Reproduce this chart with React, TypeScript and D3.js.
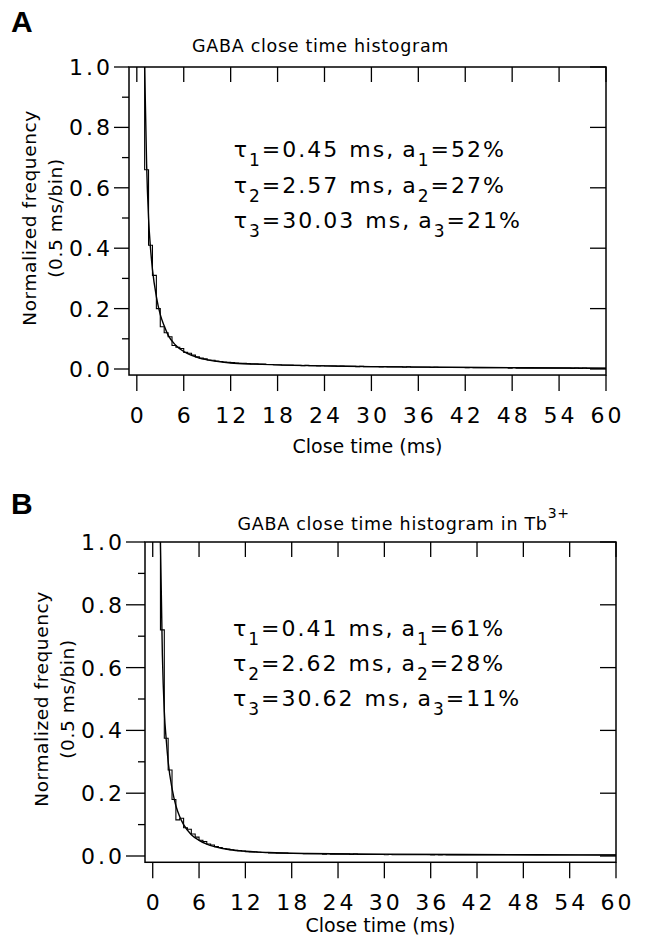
import React from 'react';
import * as d3 from 'd3';

const W = 648;
const H = 939;

const xTicks = [0, 6, 12, 18, 24, 30, 36, 42, 48, 54, 60];
const yMajor = [0, 0.2, 0.4, 0.6, 0.8, 1.0];
const yMinor = [0.1, 0.3, 0.5, 0.7, 0.9];
const BIN = 0.5;

// Panel A histogram (0.5 ms bins, first bin starts at 0.5 ms)
const histStartA = 0.5;
const histA = [
  1.5, 0.66, 0.41, 0.31, 0.2, 0.14, 0.12, 0.107, 0.078, 0.072,
  0.068, 0.055, 0.052, 0.046, 0.04, 0.036, 0.034, 0.03, 0.029, 0.026,
  0.025, 0.023, 0.022, 0.021, 0.02, 0.019, 0.019, 0.018, 0.017, 0.017,
  0.016, 0.016, 0.015, 0.015, 0.014, 0.014, 0.013, 0.013, 0.013, 0.012,
  0.012, 0.011, 0.012, 0.011, 0.011, 0.01, 0.011, 0.01, 0.01, 0.01,
  0.009, 0.01, 0.009, 0.009, 0.009, 0.008, 0.009, 0.008, 0.008, 0.008,
  0.008, 0.007, 0.008, 0.007, 0.007, 0.007, 0.007, 0.006, 0.007, 0.006,
  0.006, 0.006, 0.006, 0.006, 0.005, 0.006, 0.005, 0.005, 0.005, 0.005,
  0.005, 0.005, 0.005, 0.004, 0.005, 0.004, 0.004, 0.004, 0.004, 0.004,
  0.004, 0.004, 0.004, 0.004, 0.003, 0.004, 0.003, 0.003, 0.003, 0.003,
  0.003, 0.003, 0.003, 0.003, 0.003, 0.003, 0.003, 0.003, 0.003, 0.003,
  0.002, 0.003, 0.002, 0.003, 0.002, 0.002, 0.002, 0.002, 0.002
];
// Panel A fitted curve, read at these times (ms)
const fitTA = [0.9, 1.0, 1.25, 1.5, 1.75, 2.0, 2.5, 3.0, 3.5, 4.0, 5.0, 6.0, 7.0, 8.0, 10, 12, 15, 20, 25, 30, 40, 50, 60];
const fitYA = [1.2, 1.0, 0.68, 0.5, 0.4, 0.33, 0.24, 0.18, 0.143, 0.112, 0.078, 0.058, 0.045, 0.036, 0.026, 0.02, 0.016, 0.012, 0.01, 0.008, 0.006, 0.004, 0.003];

// Panel B histogram
const histStartB = 0.5;
const histB = [
  1.5, 0.72, 0.375, 0.274, 0.18, 0.115, 0.12, 0.09, 0.085, 0.07,
  0.06, 0.05, 0.046, 0.038, 0.035, 0.03, 0.027, 0.024, 0.022, 0.02,
  0.018, 0.017, 0.016, 0.014, 0.013, 0.013, 0.012, 0.011, 0.011, 0.01,
  0.01, 0.009, 0.009, 0.009, 0.008, 0.008, 0.008, 0.008, 0.007, 0.007,
  0.007, 0.007, 0.007, 0.006, 0.007, 0.006, 0.006, 0.006, 0.006, 0.006,
  0.005, 0.006, 0.005, 0.005, 0.005, 0.005, 0.005, 0.005, 0.005, 0.004,
  0.005, 0.004, 0.004, 0.004, 0.004, 0.004, 0.004, 0.004, 0.004, 0.004,
  0.004, 0.003, 0.004, 0.003, 0.004, 0.003, 0.003, 0.003, 0.003, 0.003,
  0.003, 0.003, 0.003, 0.003, 0.003, 0.003, 0.003, 0.003, 0.003, 0.003,
  0.003, 0.003, 0.003, 0.003, 0.003, 0.003, 0.003, 0.003, 0.003, 0.003,
  0.003, 0.003, 0.003, 0.003, 0.003, 0.003, 0.003, 0.003, 0.003, 0.003,
  0.003, 0.003, 0.003, 0.003, 0.003, 0.003, 0.003, 0.003, 0.003
];
const fitTB = [0.85, 1.0, 1.25, 1.5, 1.75, 2.0, 2.5, 3.0, 3.5, 4.0, 5.0, 6.0, 7.0, 8.0, 10, 12, 15, 20, 30, 40, 50, 60];
const fitYB = [1.3, 1.0, 0.64, 0.46, 0.37, 0.3, 0.215, 0.16, 0.125, 0.1, 0.068, 0.05, 0.038, 0.03, 0.02, 0.015, 0.011, 0.008, 0.006, 0.005, 0.004, 0.003];

const paramsA = [
  { i: '1', tau: '0.45', a: '52%' },
  { i: '2', tau: '2.57', a: '27%' },
  { i: '3', tau: '30.03', a: '21%' },
];
const paramsB = [
  { i: '1', tau: '0.41', a: '61%' },
  { i: '2', tau: '2.62', a: '28%' },
  { i: '3', tau: '30.62', a: '11%' },
];

const FONT = "'DejaVu Sans', 'Liberation Sans', sans-serif";

type PanelProps = {
  id: string;
  letter: string;
  letterX: number;
  letterY: number;
  title: string;
  titleSup?: string;
  titleT: number;
  titleY: number;
  x0: number;
  x1: number;
  yTop: number;
  yZero: number;
  tickLen: number;
  ylabX: number;
  tickLabY: number;
  xlabY: number;
  hist: number[];
  histStart: number;
  fitT: number[];
  fitY: number[];
  params: { i: string; tau: string; a: string }[];
  textT: number;
  textY: number[];
};

function Panel(p: PanelProps) {
  const x = d3.scaleLinear().domain([-1, 60]).range([p.x0, p.x1]);
  const y = d3.scaleLinear().domain([0, 1]).range([p.yZero, p.yTop]);
  const yBot = y(-0.02);
  const cx = (p.x0 + p.x1) / 2;
  const cy = (p.yTop + p.yZero) / 2;

  const steps: [number, number][] = p.hist.map((v, i) => [p.histStart + i * BIN, v]);
  steps.push([p.histStart + p.hist.length * BIN, p.hist[p.hist.length - 1]]);
  const stepLine = d3
    .line<[number, number]>()
    .x((d) => x(d[0]))
    .y((d) => y(d[1]))
    .curve(d3.curveStepAfter);
  const fitPts: [number, number][] = p.fitT.map((t, i) => [t, p.fitY[i]]);
  const fitLine = d3
    .line<[number, number]>()
    .x((d) => x(d[0]))
    .y((d) => y(d[1]))
    .curve(d3.curveMonotoneX);

  const clipId = 'clip' + p.id;
  const sw = 1.3;
  const textX = x(p.textT);
  return (
    <g>
      <defs>
        <clipPath id={clipId}>
          <rect x={p.x0} y={p.yTop} width={p.x1 - p.x0} height={yBot - p.yTop} />
        </clipPath>
      </defs>
      <text x={p.letterX} y={p.letterY} fontFamily="'Liberation Sans', Arial, sans-serif" fontWeight="bold" fontSize={30}>
        {p.letter}
      </text>
      <text x={x(p.titleT)} y={p.titleY} textAnchor="middle" fontFamily={FONT} fontSize={17.5} letterSpacing={0.7}>
        {p.title}
        {p.titleSup ? (
          <tspan dy={-12} fontSize={14}>
            {p.titleSup}
          </tspan>
        ) : null}
      </text>
      {/* frame */}
      <rect x={p.x0} y={p.yTop} width={p.x1 - p.x0} height={yBot - p.yTop} fill="none" stroke="#000" strokeWidth={1.5} />
      {/* left ticks */}
      {yMajor.map((v) => (
        <line key={'lm' + v} x1={p.x0 - p.tickLen} x2={p.x0} y1={y(v)} y2={y(v)} stroke="#000" strokeWidth={sw} />
      ))}
      {yMinor.map((v) => (
        <line key={'ln' + v} x1={p.x0 - 7} x2={p.x0} y1={y(v)} y2={y(v)} stroke="#000" strokeWidth={sw} />
      ))}
      {/* right ticks inward */}
      {yMajor.map((v) => (
        <line key={'rm' + v} x1={p.x1 - 16} x2={p.x1} y1={y(v)} y2={y(v)} stroke="#000" strokeWidth={sw} />
      ))}
      {/* top ticks inward */}
      {xTicks.map((t) => (
        <line key={'tt' + t} x1={x(t)} x2={x(t)} y1={p.yTop} y2={p.yTop + 15} stroke="#000" strokeWidth={sw} />
      ))}
      {/* bottom ticks outward */}
      {xTicks.map((t) => (
        <line key={'bt' + t} x1={x(t)} x2={x(t)} y1={yBot} y2={yBot + 16} stroke="#000" strokeWidth={sw} />
      ))}
      {/* y tick labels */}
      {yMajor.map((v) => (
        <text key={'yl' + v} x={p.x0 - p.tickLen - 1} y={y(v) + 8} textAnchor="end" fontFamily={FONT} fontSize={22} letterSpacing={3}>
          {v.toFixed(1)}
        </text>
      ))}
      {/* x tick labels */}
      {xTicks.map((t) => (
        <text key={'xl' + t} x={x(t) + 1.5} y={p.tickLabY} textAnchor="middle" fontFamily={FONT} fontSize={22} letterSpacing={3}>
          {t}
        </text>
      ))}
      <text x={cx} y={p.xlabY} textAnchor="middle" fontFamily={FONT} fontSize={19} letterSpacing={0}>
        Close time (ms)
      </text>
      <g transform={`translate(${p.ylabX},${cy}) rotate(-90)`}>
        <text x={0} y={0} textAnchor="middle" fontFamily={FONT} fontSize={18.5} letterSpacing={0.6}>
          Normalized frequency
        </text>
        <text x={0} y={26} textAnchor="middle" fontFamily={FONT} fontSize={18.5} letterSpacing={0.6}>
          (0.5 ms/bin)
        </text>
      </g>
      {/* data */}
      <g clipPath={`url(#${clipId})`}>
        <path d={stepLine(steps) || ''} fill="none" stroke="#000" strokeWidth={1.1} />
        <path d={fitLine(fitPts) || ''} fill="none" stroke="#000" strokeWidth={1.4} />
      </g>
      {/* parameters text */}
      {p.params.map((q, k) => (
        <text key={'pt' + k} x={textX} y={p.textY[k]} fontFamily={FONT} fontSize={22} letterSpacing={2}>
          <tspan>τ</tspan>
          <tspan fontSize={17} dy={9}>{q.i}</tspan>
          <tspan dy={-9}>={q.tau}</tspan>
          <tspan dx={10}>ms,</tspan>
          <tspan dx={7}>a</tspan>
          <tspan fontSize={17} dy={9}>{q.i}</tspan>
          <tspan dy={-9}>={q.a}</tspan>
        </text>
      ))}
    </g>
  );
}

export default function App() {
  return (
    <svg width={W} height={H} viewBox={`0 0 ${W} ${H}`} style={{ display: 'block', position: 'absolute', left: 0, top: 0, background: '#fff' }}>
      <rect x={0} y={0} width={W} height={H} fill="#fff" />
      <Panel
        id="A"
        letter="A"
        letterX={11}
        letterY={32}
        title="GABA close time histogram"
        titleT={23.5}
        titleY={52}
        x0={129}
        x1={606}
        yTop={67}
        yZero={369}
        tickLen={15}
        ylabX={36}
        tickLabY={423}
        xlabY={453}
        hist={histA}
        histStart={histStartA}
        fitT={fitTA}
        fitY={fitYA}
        params={paramsA}
        textT={12.4}
        textY={[157, 193, 228]}
      />
      <Panel
        id="B"
        letter="B"
        letterX={11}
        letterY={514}
        title="GABA close time histogram in Tb"
        titleSup="3+"
        titleT={32.5}
        titleY={530}
        x0={145}
        x1={616}
        yTop={542}
        yZero={856}
        tickLen={19}
        ylabX={48}
        tickLabY={910}
        xlabY={932}
        hist={histB}
        histStart={histStartB}
        fitT={fitTB}
        fitY={fitYB}
        params={paramsB}
        textT={10.4}
        textY={[636, 671, 706]}
      />
    </svg>
  );
}
